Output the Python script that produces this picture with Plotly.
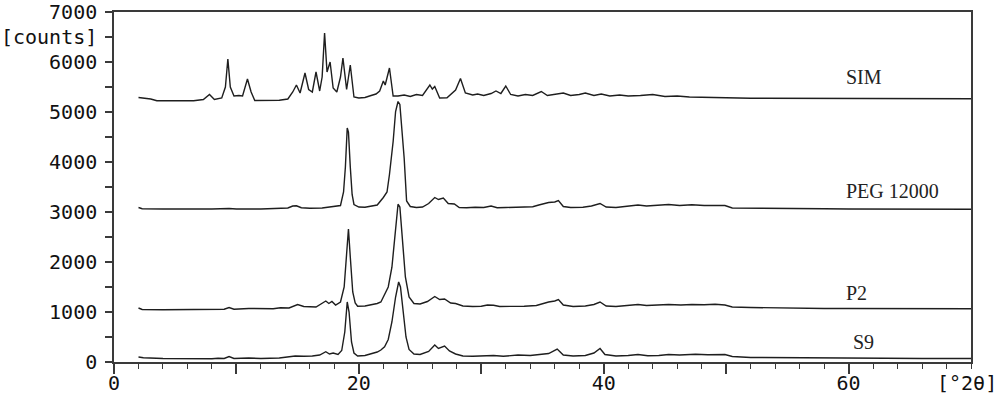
import plotly.graph_objects as go

# ---------------- data ----------------
sim_angle = [2.0, 2.5, 3.0, 3.5, 5.0, 6.5, 7.3, 7.8, 8.2, 8.8, 9.1, 9.3, 9.5, 9.8, 10.2, 10.5, 10.9, 11.2, 11.5,
             12.5, 13.5, 14.2, 14.6, 14.9, 15.2, 15.6, 15.9, 16.2, 16.5, 16.8, 17.0, 17.2, 17.4, 17.65, 17.9,
             18.2, 18.5, 18.7, 19.0, 19.3, 19.6, 20.0, 20.5, 21.0, 21.4, 21.7, 22.0, 22.15, 22.5, 22.8, 23.2,
             23.7, 24.2, 24.7, 25.2, 25.8, 26.0, 26.2, 26.6, 27.2, 27.9, 28.3, 28.7, 29.3, 29.7, 30.2, 30.8,
             31.2, 31.6, 32.0, 32.4, 33.0, 33.6, 34.2, 34.9, 35.4, 36.0, 36.7, 37.3, 38.0, 38.5, 39.2, 39.8,
             40.5, 41.3, 42.0, 43.0, 44.0, 45.0, 46.0, 47.0, 48.0, 49.0, 50.0, 52.0, 54.0, 56.0, 58.0, 60.0,
             62.0, 65.0, 68.0, 70.0]
sim_counts = [5290, 5280, 5260, 5225, 5220, 5225, 5250, 5350, 5250, 5280, 5500, 6060, 5500, 5320, 5330, 5320, 5660, 5400, 5230,
              5225, 5235, 5260, 5400, 5540, 5380, 5780, 5450, 5400, 5800, 5420, 5700, 6580, 5800, 6000, 5480,
              5400, 5700, 6080, 5450, 5940, 5300, 5280, 5290, 5330, 5360, 5420, 5620, 5540, 5880, 5320, 5320,
              5340, 5310, 5350, 5330, 5540, 5460, 5510, 5280, 5285, 5440, 5670, 5380, 5340, 5360, 5330, 5370,
              5420, 5370, 5520, 5350, 5320, 5350, 5330, 5410, 5330, 5350, 5380, 5330, 5350, 5380, 5330, 5360,
              5320, 5340, 5320, 5330, 5350, 5310, 5320, 5300, 5290, 5280, 5285, 5275, 5275, 5270, 5270, 5265,
              5270, 5265, 5265, 5265]

peg_angle = [2.0, 2.3, 4.0, 6.0, 8.0, 9.4, 10.0, 12.0, 13.5, 14.2, 14.6, 14.9, 15.3, 16.0, 17.0, 17.5, 18.0, 18.5,
             18.75, 18.9, 19.05, 19.15, 19.3, 19.45, 19.6, 20.0, 20.5, 21.0, 21.5, 22.0, 22.3, 22.5, 22.8, 23.0,
             23.2, 23.35, 23.5, 23.7, 23.9, 24.2, 24.7, 25.2, 25.7, 26.2, 26.5, 26.9, 27.3, 27.8, 28.2, 28.8,
             29.5, 30.2, 30.8, 31.3, 32.0, 32.8, 33.5, 34.2, 34.7, 35.5, 36.0, 36.3, 36.7, 37.3, 38.3, 39.0,
             39.7, 40.2, 41.0, 42.0, 42.8, 43.5, 44.3, 45.3, 46.2, 47.2, 48.2, 49.0, 49.9, 50.5, 52.0, 54.0,
             56.0, 58.0, 60.0, 63.0, 66.0, 70.0]
peg_counts = [3090, 3065, 3060, 3055, 3060, 3070, 3060, 3060, 3070, 3080, 3120, 3125, 3085, 3075, 3080, 3095, 3100, 3130,
              3400, 3900, 4680, 4600, 3900, 3350, 3150, 3100, 3095, 3110, 3140, 3290, 3400, 3750, 4410, 5010,
              5210, 5150, 4750, 4080, 3220, 3110, 3090, 3100, 3170, 3290, 3250, 3280, 3170, 3160, 3090, 3085,
              3095, 3090, 3120, 3085, 3090, 3095, 3100, 3105, 3140, 3190, 3200, 3230, 3110, 3090, 3095, 3120,
              3170, 3100, 3090, 3110, 3140, 3120, 3130, 3150, 3130, 3145, 3130, 3125, 3130, 3080, 3080, 3075,
              3070, 3065, 3060, 3060, 3055, 3055]

p2_angle = [2.0, 2.3, 4.0, 6.0, 8.0, 8.5, 9.0, 9.4, 9.8, 11.0, 12.0, 13.0, 13.6, 14.3, 15.0, 15.5, 16.5, 17.3, 17.55,
            17.8, 18.1, 18.5, 18.8, 19.0, 19.15, 19.3, 19.5, 19.7, 19.9, 20.5, 21.0, 21.5, 21.8, 22.1, 22.4,
            22.7, 23.0, 23.2, 23.35, 23.5, 23.8, 24.1, 24.5, 25.0, 25.6, 26.2, 26.6, 27.0, 27.5, 27.9, 28.5,
            29.3, 30.0, 30.5, 31.0, 31.5, 32.5, 33.5, 34.5, 35.0, 35.5, 36.0, 36.3, 36.7, 37.5, 38.5, 39.2,
            39.7, 40.2, 41.0, 42.0, 42.8, 43.5, 44.5, 45.3, 46.3, 47.2, 48.2, 49.1, 49.9, 50.5, 52.0, 54.0,
            56.0, 58.0, 60.0, 62.0, 64.0, 70.0]
p2_counts = [1080, 1050, 1045, 1045, 1050, 1060, 1055, 1090, 1055, 1070, 1060, 1065, 1085, 1080, 1150, 1110, 1100, 1220, 1170,
             1210, 1140, 1200, 1500, 2300, 2660, 2100, 1400, 1180, 1115, 1120, 1140, 1170, 1200, 1360, 1500,
             1895, 2625, 3155, 3100, 2560, 1700, 1300, 1170, 1160, 1210, 1310, 1250, 1260, 1180, 1170, 1120,
             1110, 1115, 1140, 1135, 1110, 1110, 1115, 1130, 1170, 1200, 1220, 1250, 1140, 1110, 1120, 1150,
             1200, 1120, 1110, 1130, 1150, 1130, 1140, 1150, 1140, 1150, 1145, 1155, 1140, 1100, 1090, 1080,
             1075, 1070, 1070, 1070, 1065, 1065]

s9_angle = [2.0, 2.4, 4.0, 6.0, 8.0, 8.5, 9.0, 9.4, 9.8, 11.0, 12.0, 13.5, 14.2, 14.8, 15.5, 16.2, 16.8, 17.3, 17.6,
            17.9, 18.3, 18.6, 18.85, 19.05, 19.2, 19.4, 19.6, 19.9, 20.5, 21.0, 21.5, 21.8, 22.1, 22.4, 22.7,
            23.0, 23.25, 23.4, 23.6, 23.85, 24.1, 24.5, 25.0, 25.7, 26.2, 26.5, 27.0, 27.4, 27.9, 28.5, 29.3,
            30.2, 31.0, 31.8, 33.0, 34.0, 35.0, 35.5, 36.2, 36.7, 37.5, 38.5, 39.2, 39.7, 40.1, 41.0, 42.0,
            42.8, 43.6, 44.5, 45.3, 46.2, 47.5, 48.5, 49.9, 50.5, 52.0, 54.0, 56.0, 58.0, 60.0, 63.0, 66.0, 70.0]
s9_counts = [100, 85, 70, 60, 65, 75, 70, 110, 70, 80, 70, 80, 100, 120, 115, 120, 140, 205, 160,
             180, 150, 230, 600, 1200, 1000, 400, 180, 120, 130, 160, 200, 240, 305, 450, 800,
             1300, 1600, 1500, 1100, 500, 250, 160, 150, 210, 340, 270, 320, 220, 160, 120, 115,
             120, 130, 115, 140, 130, 150, 170, 258, 140, 120, 130, 180, 270, 150, 120, 130,
             150, 125, 130, 150, 140, 155, 145, 150, 110, 90, 85, 80, 80, 75, 75, 70, 70]

series_names = ["SIM", "PEG 12000", "P2", "S9"]
label_angle = [59.6, 59.6, 59.6, 60.2]
label_counts = [5700, 3414, 1372, 398]

x_tickvals = [0, 10, 20, 30, 40, 50, 60]
x_ticktext = ["0", "", "20", "", "40", "", "60"]
y_tickvals = [0, 1000, 2000, 3000, 4000, 5000, 6000, 6500, 7000]
y_ticktext = ["0", "1000", "2000", "3000", "4000", "5000", "6000", "[counts]", "7000"]
x_unit = "[°2θ]"

# ---------------- figure ----------------
LINE = "#1e1e1e"
AX = "#3a3a3a"
MONO = "DejaVu Sans Mono"

fig = go.Figure()
for name, xs, ys in [("SIM", sim_angle, sim_counts), ("PEG 12000", peg_angle, peg_counts),
                     ("P2", p2_angle, p2_counts), ("S9", s9_angle, s9_counts)]:
    fig.add_trace(go.Scatter(x=xs, y=ys, mode="lines", name=name,
                             line=dict(color=LINE, width=1.4), showlegend=False))

for name, xa, ya in zip(series_names, label_angle, label_counts):
    fig.add_annotation(x=xa, y=ya, text=name, showarrow=False, xanchor="left", yanchor="middle",
                       font=dict(family="Liberation Serif", size=20, color="#222"))

fig.add_annotation(xref="paper", yref="paper", x=1.0, y=0, yshift=-21, xshift=28, text=x_unit,
                   showarrow=False, xanchor="right", yanchor="middle",
                   font=dict(family=MONO, size=20, color="#111"))

fig.update_layout(
    width=1000, height=394,
    margin=dict(l=114, r=29, t=12, b=32),
    paper_bgcolor="white", plot_bgcolor="white",
    xaxis=dict(range=[0, 70], tickmode="array", tickvals=x_tickvals, ticktext=x_ticktext,
               ticks="outside", ticklen=10, tickwidth=1.5, tickcolor=AX,
               minor=dict(tick0=0, dtick=2, ticks="outside", ticklen=5, tickwidth=1.2, tickcolor=AX),
               showline=True, linecolor=AX, linewidth=1.5, mirror=True,
               showgrid=False, zeroline=False, automargin=False,
               ticklabelstandoff=-8, ticklabeloverflow="allow",
               tickfont=dict(family=MONO, size=20, color="#111")),
    yaxis=dict(range=[0, 7000], tickmode="array", tickvals=y_tickvals, ticktext=y_ticktext,
               ticks="outside", ticklen=7, tickwidth=1.5, tickcolor=AX,
               minor=dict(tick0=0, dtick=500, ticks="outside", ticklen=7, tickwidth=1.5, tickcolor=AX),
               showline=True, linecolor=AX, linewidth=1.5, mirror=True,
               showgrid=False, zeroline=False, ticklabelstandoff=4, automargin=False,
               ticklabeloverflow="allow",
               tickfont=dict(family=MONO, size=20, color="#111")),
)

fig.write_html("out.html")
